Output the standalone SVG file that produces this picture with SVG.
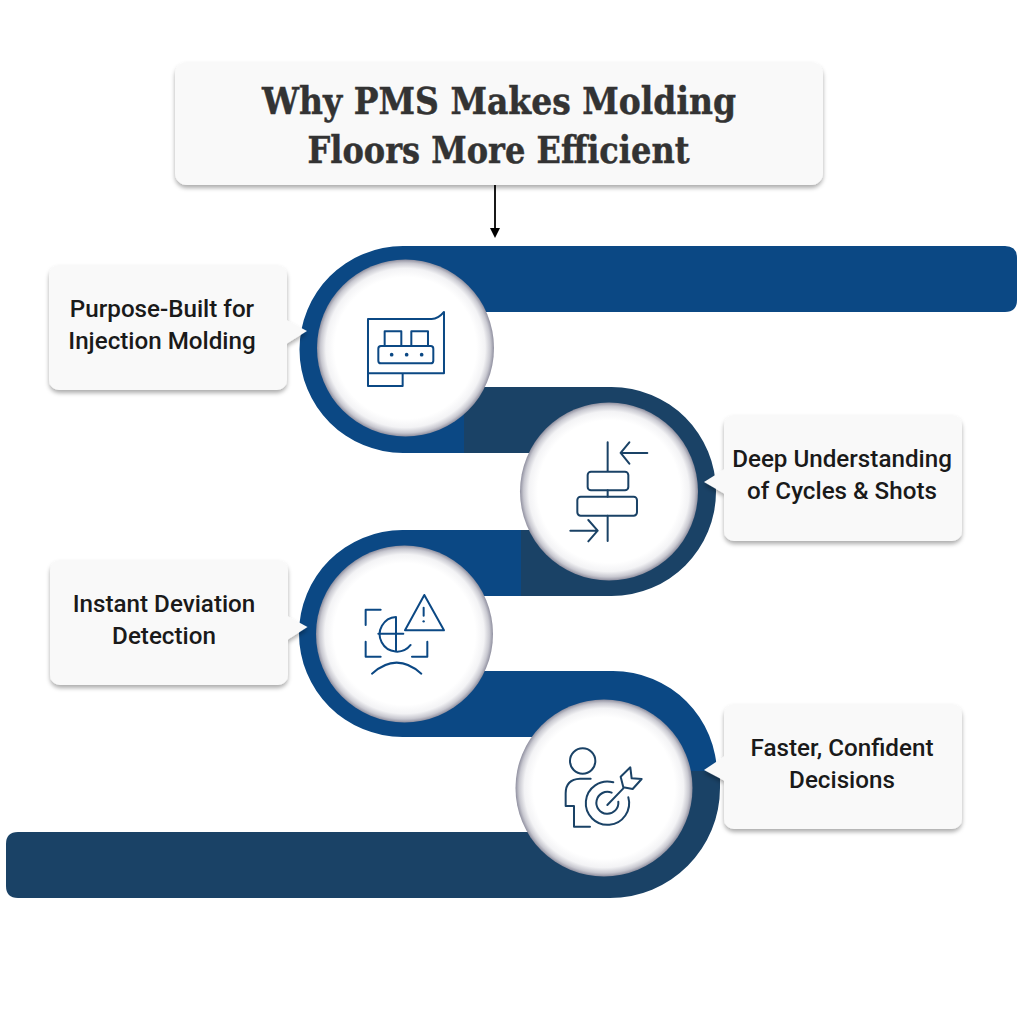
<svg xmlns="http://www.w3.org/2000/svg" width="1024" height="1024" viewBox="0 0 1024 1024">
<style>
.card{fill:#f9f9f9}
.lbl{font-family:"Roboto","Liberation Sans",sans-serif;font-weight:500;font-size:24.2px;fill:#1a1a1a;text-anchor:middle}
.ttl{font-family:"DejaVu Serif","Liberation Serif",serif;font-weight:700;font-size:38px;fill:#333;stroke:#333;stroke-width:.5;text-anchor:middle}
.ico{fill:none;stroke-width:6;stroke-linecap:round;stroke-linejoin:round}
.blue{stroke:#0b4884}
.navy{stroke:#1a4266}
</style>
<defs>
<filter id="sh" x="-10%" y="-10%" width="120%" height="125%"><feDropShadow dx="0" dy="3" stdDeviation="2" flood-color="#000" flood-opacity=".32"/></filter>
<radialGradient id="disc"><stop offset=".8" stop-color="#fff"/><stop offset=".9" stop-color="#f3f3f5"/><stop offset=".96" stop-color="#c8c8d0"/><stop offset="1" stop-color="#8f8f9f"/></radialGradient>
<marker id="ah" markerWidth="12" markerHeight="10" refX="0" refY="5" orient="auto" markerUnits="userSpaceOnUse"><path d="M0,0L10,5L0,10Z" fill="#000"/></marker>
</defs>
<rect width="1024" height="1024" fill="#fff"/>
<g id="connectors">
<path fill="#1a4266" d="M610,898A110,110 0 0 0 720,788V771H600V832H18Q6,832 6,844V886Q6,898 18,898Z"/>
<path fill="#0b4884" d="M402.5,530H521V596H460V671H613A104,104 0 0 1 717,775V771H600V737H402.5A103.5,103.5 0 0 1 402.5,530Z"/>
<path fill="#1a4266" d="M464,387H611.5A104.5,104.5 0 0 1 611.5,596H521V530H560V453H464Z"/>
<path fill="#0b4884" d="M403,246H1005Q1017,246 1017,258V300Q1017,312 1005,312H470V387H464V453H403A103.5,103.5 0 0 1 403,246Z"/>
<path d="M495,185V228" stroke="#000" stroke-width="1.8" fill="none" marker-end="url(#ah)"/>
</g>
<g id="title" filter="url(#sh)"><rect class="card" x="175" y="62" width="648" height="123" rx="12"/></g>
<text class="ttl" x="499" y="114" textLength="474" lengthAdjust="spacingAndGlyphs">Why PMS Makes Molding</text>
<text class="ttl" x="498.5" y="163" textLength="382" lengthAdjust="spacingAndGlyphs">Floors More Efficient</text>
<g id="card1"><g filter="url(#sh)"><rect class="card" x="49" y="265" width="238" height="125" rx="10"/><path class="card" d="M286,320L307,331L286,344Z"/></g>
<text class="lbl" x="162" y="317">Purpose-Built for</text><text class="lbl" x="162" y="349">Injection Molding</text></g>
<g id="card2"><g filter="url(#sh)"><rect class="card" x="724" y="415" width="238" height="126" rx="10"/><path class="card" d="M725,469L704,482L725,494Z"/></g>
<text class="lbl" x="842" y="467">Deep Understanding</text><text class="lbl" x="842" y="499">of Cycles &amp; Shots</text></g>
<g id="card3"><g filter="url(#sh)"><rect class="card" x="50" y="560" width="238" height="125" rx="10"/><path class="card" d="M287,616L307.5,627L287,640Z"/></g>
<text class="lbl" x="164" y="612">Instant Deviation</text><text class="lbl" x="164" y="644">Detection</text></g>
<g id="card4"><g filter="url(#sh)"><rect class="card" x="724" y="704" width="238" height="125" rx="10"/><path class="card" d="M725,756L704,770L725,781Z"/></g>
<text class="lbl" x="842" y="756">Faster, Confident</text><text class="lbl" x="842" y="788">Decisions</text></g>
<g id="node1"><circle cx="405.5" cy="348" r="88.5" fill="url(#disc)"/>
<g transform="translate(290,240) scale(.3333)"><g class="ico blue"><path d="M234,237H425Q445,237 462,216V400H234ZM234,400V438H338V400"/><path d="M284,318V274H334V318M364,318V274H414V318"/><rect x="265" y="318" width="165" height="52" rx="8"/></g>
<g fill="#0b4884"><circle cx="305" cy="344" r="5.5"/><circle cx="350" cy="344" r="5.5"/><circle cx="395" cy="344" r="5.5"/></g></g></g>
<g id="node2"><circle cx="609" cy="491.5" r="89" fill="url(#disc)"/>
<g transform="translate(500,385) scale(.3333)" class="ico navy"><path d="M323,172V258M323,316V335M323,392V468"/><rect x="263" y="260" width="122" height="56" rx="10"/><rect x="232" y="335" width="179" height="57" rx="10"/><path d="M442,204H362M388,172L362,204L388,236M211,437H293M265,405L293,437L265,469"/></g></g>
<g id="node3"><circle cx="404.5" cy="634" r="88.5" fill="url(#disc)"/>
<g transform="translate(290,525) scale(.3333)"><g class="ico blue"><path d="M272,254H227V300M227,350V395H272M366,395H412V350"/><path d="M403,210L462,316H345Z"/><path d="M401,248V272"/><path d="M318,276A52,52 0 1 0 362,360M318,276V378M265,326H340"/><path d="M246,446Q320,380 394,446"/></g><circle cx="401" cy="289" r="3.5" fill="#0b4884"/></g></g>
<g id="node4"><circle cx="604" cy="788" r="88.5" fill="url(#disc)"/>
<g transform="translate(500,680) scale(.3333)" class="ico navy"><circle cx="248" cy="243" r="38"/><path d="M272,296H240Q197,298 197,340V378H222V440H270"/><path d="M340,307A65,65 0 1 0 385,352"/><path d="M335,338A33,33 0 1 0 355,365"/><path d="M322,375L370,325"/><path d="M370,322L362,290L391,262L395,295L425,297L398,327Z"/></g></g>
</svg>
